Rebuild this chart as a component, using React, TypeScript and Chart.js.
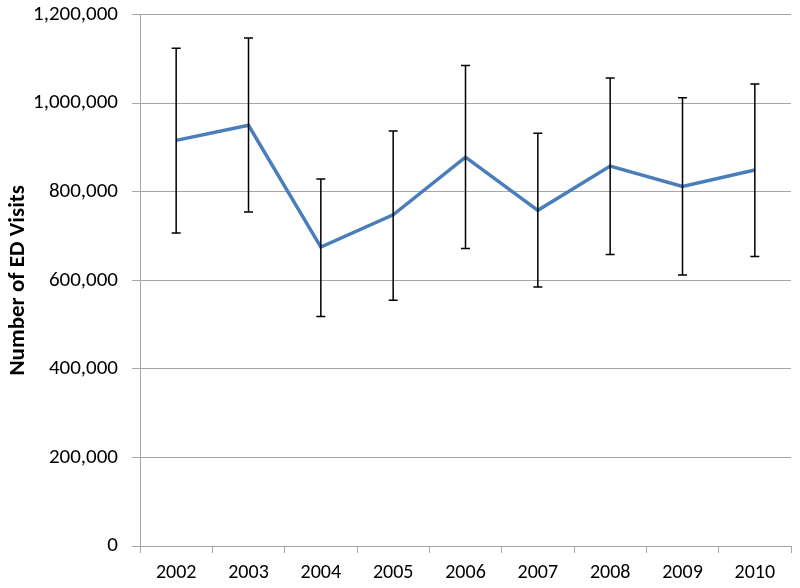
import React, { useEffect, useRef } from "react";
import { Chart, registerables } from "chart.js";

Chart.register(...registerables);

const years = ["2002", "2003", "2004", "2005", "2006", "2007", "2008", "2009", "2010"];
const visits = [916000, 950000, 675000, 748000, 878000, 758000, 858000, 812000, 849000];
const upperCI = [1124000, 1147000, 829000, 937000, 1085000, 932000, 1057000, 1012000, 1043000];
const lowerCI = [707000, 754000, 518000, 555000, 672000, 585000, 658000, 612000, 654000];
const yTitle = "Number of ED Visits";

const FONT = "Carlito, 'Open Sans', sans-serif";

const errorBarPlugin = {
  id: "errorBars",
  afterDatasetsDraw(chart: any) {
    const ctx = chart.ctx;
    const xs = chart.scales.x;
    const ys = chart.scales.y;
    ctx.save();
    ctx.strokeStyle = "#000000";
    ctx.lineWidth = 1.5;
    for (let i = 0; i < years.length; i++) {
      const x = xs.getPixelForValue(i);
      const yU = ys.getPixelForValue(upperCI[i]);
      const yL = ys.getPixelForValue(lowerCI[i]);
      ctx.beginPath();
      ctx.moveTo(x, yU);
      ctx.lineTo(x, yL);
      ctx.moveTo(x - 4.5, yU);
      ctx.lineTo(x + 4.5, yU);
      ctx.moveTo(x - 4.5, yL);
      ctx.lineTo(x + 4.5, yL);
      ctx.stroke();
    }
    ctx.restore();
  },
};

export default function App() {
  const ref = useRef<HTMLCanvasElement>(null);
  useEffect(() => {
    if (!ref.current) return;
    const chart = new Chart(ref.current, {
      type: "line",
      data: {
        labels: years,
        datasets: [
          {
            data: visits,
            borderColor: "#4a7ebb",
            borderWidth: 3.5,
            pointRadius: 0,
            tension: 0,
            fill: false,
          },
        ],
      },
      options: {
        responsive: false,
        animation: false,
        devicePixelRatio: 1,
        layout: { padding: { top: 2, right: 9, left: 0, bottom: 0 } },
        plugins: { legend: { display: false }, tooltip: { enabled: false } },
        scales: {
          x: {
            offset: true,
            grid: {
              offset: true,
              drawOnChartArea: false,
              drawTicks: true,
              tickLength: 7,
              color: "#a6a6a6",
            },
            border: { color: "#a6a6a6", width: 1 },
            ticks: {
              color: "#000000",
              font: { family: FONT, size: 20 },
              padding: 8,
              maxRotation: 0,
            },
            afterFit: (s: any) => {
              s.height = 42;
            },
          },
          y: {
            min: 0,
            max: 1200000,
            grid: { color: "#a6a6a6", tickLength: 8, lineWidth: 1 },
            border: { color: "#a6a6a6", width: 1 },
            ticks: {
              stepSize: 200000,
              color: "#000000",
              font: { family: FONT, size: 21 },
              padding: 14,
              callback: (v: any) => Number(v).toLocaleString("en-US"),
            },
            title: {
              display: true,
              text: yTitle,
              color: "#000000",
              font: { family: FONT, size: 23, weight: "bold" },
              padding: { top: 4, bottom: 0 },
            },
            afterFit: (s: any) => {
              s.width = 140;
            },
          },
        },
      },
      plugins: [errorBarPlugin],
    });
    return () => chart.destroy();
  }, []);
  return (
    <div style={{ position: "fixed", left: 0, top: 0, width: 800, height: 588, overflow: "hidden", background: "#fff" }}>
      <canvas
        ref={ref}
        width={800}
        height={600}
        style={{ position: "absolute", left: 0, top: -12, width: 800, height: 600 }}
      />
    </div>
  );
}
